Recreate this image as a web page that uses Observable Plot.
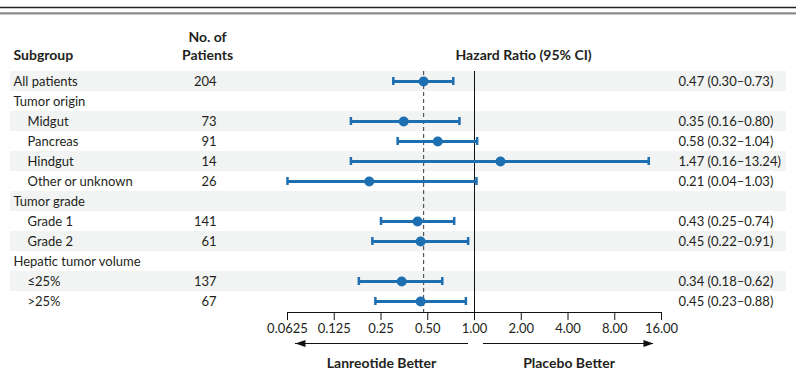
<!DOCTYPE html>
<html>
<head>
<meta charset="utf-8">
<script src="https://cdn.jsdelivr.net/npm/d3@7"></script>
<script src="https://cdn.jsdelivr.net/npm/@observablehq/plot@0.6"></script>
<style>
  html, body { margin: 0; padding: 0; background: #fff; }
  #chart svg { display: block; }
</style>
</head>
<body>
<div id="chart"></div>
<script>
// ---- data ----
const labels = ["All patients", "Tumor origin", "Midgut", "Pancreas", "Hindgut", "Other or unknown",
  "Tumor grade", "Grade 1", "Grade 2", "Hepatic tumor volume", "≤25%", ">25%"];
const indent = [0, 0, 1, 1, 1, 1, 0, 1, 1, 0, 1, 1];
const patients = [204, null, 73, 91, 14, 26, null, 141, 61, null, 137, 67];
const hr = [0.47, null, 0.35, 0.58, 1.47, 0.21, null, 0.43, 0.45, null, 0.34, 0.45];
const lo = [0.30, null, 0.16, 0.32, 0.16, 0.04, null, 0.25, 0.22, null, 0.18, 0.23];
const hi = [0.73, null, 0.80, 1.04, 13.24, 1.03, null, 0.74, 0.91, null, 0.62, 0.88];
const tickValues = [0.0625, 0.125, 0.25, 0.5, 1, 2, 4, 8, 16];
const tickLabels = ["0.0625", "0.125", "0.25", "0.50", "1.00", "2.00", "4.00", "8.00", "16.00"];
const overallHR = 0.47;
const favorLeft = "Lanreotide Better";
const favorRight = "Placebo Better";

// ---- table ----
const rows = labels.map((label, i) => ({
  i, label, indent: indent[i], n: patients[i], hr: hr[i], lo: lo[i], hi: hi[i],
  text: hr[i] == null ? "" : `${hr[i].toFixed(2)} (${lo[i].toFixed(2)}–${hi[i].toFixed(2)})`
}));
const est = rows.filter(d => d.hr != null);
const shaded = rows.filter(d => d.i % 2 === 0);
const ticks = tickValues.map((v, k) => ({v, label: tickLabels[k]}));

const blue = "#1d6fb1";
const ink = "#231f20";
const axisY = 11.55;
const boldSize = 14;

// arrowhead symbol, tip at origin pointing right
const arrowHead = {
  draw(ctx) {
    ctx.moveTo(0, 0);
    ctx.lineTo(-10, -3.5);
    ctx.lineTo(-10, 3.5);
    ctx.closePath();
  }
};

const chart = Plot.plot({
  width: 796,
  height: 381,
  margin: 0,
  style: {fontFamily: "Lato, 'Open Sans', sans-serif", fontSize: "13px", color: ink, background: "#fff"},
  x: {type: "log", base: 2, domain: [0.0625, 16], range: [287, 661], clamp: true, axis: null},
  y: {type: "linear", domain: [0, 11], range: [81, 301], axis: null},
  marks: [
    // top double rule
    Plot.ruleY([-3.7], {stroke: "#222", strokeWidth: 1.4}),
    Plot.ruleY([-3.41], {stroke: "#8a8a8a", strokeWidth: 2.2}),
    // shaded bands
    Plot.rect(shaded, {y1: d => d.i - 0.5, y2: d => d.i + 0.5, fill: "#f2f3f3", insetLeft: 10, insetRight: 10}),
    // headers
    Plot.text(["Subgroup"], {frameAnchor: "left", dx: 13, y: -1.3, textAnchor: "start", fontWeight: "bold", fontSize: boldSize, fill: ink}),
    Plot.text(["No. of"], {frameAnchor: "left", dx: 207, y: -2.2, textAnchor: "middle", fontWeight: "bold", fontSize: boldSize, fill: ink}),
    Plot.text(["Patients"], {frameAnchor: "left", dx: 207, y: -1.3, textAnchor: "middle", fontWeight: "bold", fontSize: boldSize, fill: ink}),
    Plot.text(["Hazard Ratio (95% CI)"], {frameAnchor: "left", dx: 455, y: -1.3, textAnchor: "start", fontWeight: "bold", fontSize: boldSize, fill: ink}),
    // labels
    Plot.text(rows.filter(d => !d.indent), {frameAnchor: "left", dx: 13, y: "i", text: "label", textAnchor: "start", fill: ink}),
    Plot.text(rows.filter(d => d.indent), {frameAnchor: "left", dx: 27, y: "i", text: "label", textAnchor: "start", fill: ink}),
    Plot.text(rows.filter(d => d.n != null), {frameAnchor: "left", dx: 216, y: "i", text: d => String(d.n), textAnchor: "end", fill: ink}),
    Plot.text(est, {frameAnchor: "left", dx: 678, y: "i", text: "text", textAnchor: "start", fill: ink}),
    // reference lines
    Plot.ruleX([1], {y1: -0.5, y2: axisY, stroke: "#111", strokeWidth: 1}),
    Plot.ruleX([overallHR], {y1: -0.5, y2: axisY, stroke: "#555", strokeWidth: 1.2, strokeDasharray: "4,3"}),
    // CIs
    Plot.ruleY(est, {x1: "lo", x2: "hi", y: "i", stroke: blue, strokeWidth: 3}),
    Plot.ruleX(est, {x: "lo", y1: d => d.i - 0.2, y2: d => d.i + 0.2, stroke: blue, strokeWidth: 2.5}),
    Plot.ruleX(est, {x: "hi", y1: d => d.i - 0.2, y2: d => d.i + 0.2, stroke: blue, strokeWidth: 2.5}),
    Plot.dot(est, {x: "hr", y: "i", r: 5, fill: blue, stroke: "none"}),
    // axis
    Plot.ruleY([axisY], {x1: tickValues[0], x2: tickValues[tickValues.length - 1], stroke: "#111", strokeWidth: 1}),
    Plot.ruleX(ticks, {x: "v", y1: axisY, y2: axisY + 0.4, stroke: "#111", strokeWidth: 1}),
    Plot.text(ticks, {x: "v", y: 12.35, text: "label", fill: ink}),
    // favour arrows
    Plot.ruleY([13.1], {x1: 0.0703, x2: 0.915, stroke: "#111", strokeWidth: 1}),
    Plot.ruleY([13.1], {x1: 1.143, x2: 14.2, stroke: "#111", strokeWidth: 1}),
    Plot.dot([0.0703], {x: d => d, y: 13.1, symbol: arrowHead, rotate: 180, fill: "#111", stroke: "none", r: 4}),
    Plot.dot([14.2], {x: d => d, y: 13.1, symbol: arrowHead, fill: "#111", stroke: "none", r: 4}),
    Plot.text([favorLeft], {x: 0.252, y: 14.1, fontWeight: "bold", fontSize: boldSize, fill: ink}),
    Plot.text([favorRight], {x: 4.06, y: 14.1, fontWeight: "bold", fontSize: boldSize, fill: ink})
  ]
});
document.getElementById("chart").appendChild(chart);
</script>
</body>
</html>
